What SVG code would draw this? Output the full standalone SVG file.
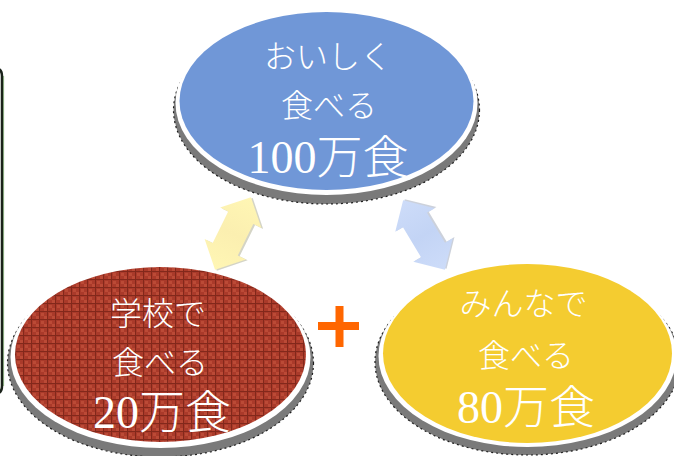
<svg xmlns="http://www.w3.org/2000/svg" width="674" height="456" viewBox="0 0 674 456">
<style>
  .t { fill:#ffffff; font-family:'Liberation Serif','Noto Sans CJK JP',serif; font-weight:300; text-anchor:middle; }
  .s1 { font-size:32px; }
  .s2 { font-size:46px; }
  .rim { fill:#7a7a7a; stroke:#1e1e1e; stroke-width:1.2; stroke-dasharray:2 3; }
  .ring { fill:#ffffff; }
</style>
<defs>
  <pattern id="redPat" width="8" height="8" patternUnits="userSpaceOnUse">
    <rect width="8" height="8" fill="#aa3a2a"/>
    <rect x="1" y="1" width="3" height="3" fill="#bb4a36"/>
    <rect x="4" y="4" width="3" height="3" fill="#bb4a36"/>
    <rect x="0" y="7" width="8" height="1" fill="#82281b"/>
    <rect x="7" y="0" width="1" height="8" fill="#82281b"/>
  </pattern>
  <linearGradient id="yArrow" x1="0" y1="0" x2="1" y2="0">
    <stop offset="0" stop-color="#fff6b4"/>
    <stop offset="0.5" stop-color="#fbefb0"/>
    <stop offset="1" stop-color="#fff6b4"/>
  </linearGradient>
  <linearGradient id="bArrow" x1="0" y1="0" x2="1" y2="0">
    <stop offset="0" stop-color="#cddcf9"/>
    <stop offset="0.5" stop-color="#c3d4f5"/>
    <stop offset="1" stop-color="#cddcf9"/>
  </linearGradient>
  <path id="dblArrow" d="M40.5,0 L17.5,-23 L17.5,-14 L-17.5,-14 L-17.5,-23 L-40.5,0 L-17.5,23 L-17.5,14 L17.5,14 L17.5,23 Z"/>
</defs>

<rect width="674" height="456" fill="#ffffff"/>

<g id="frame">
  <path d="M-6,68 Q2,68 2,76 L2,386 Q2,394 -6,394" fill="none" stroke="#1a221a" stroke-width="2.5"/>
  <path d="M3.6,76 L3.6,386" fill="none" stroke="#6f9a62" stroke-width="0.8"/>
</g>

<g id="connectors">
  <g transform="translate(233,233.5) rotate(-63.7)">
    <use href="#dblArrow" transform="translate(0,2)" fill="#b8b8a0" opacity="0.6"/>
    <use href="#dblArrow" fill="url(#yArrow)"/>
  </g>
  <g transform="translate(424,235) rotate(59)">
    <use href="#dblArrow" transform="translate(0,-2)" fill="#9aa4b8" opacity="0.5"/>
    <use href="#dblArrow" fill="url(#bArrow)"/>
  </g>
</g>

<g id="node-top">
  <ellipse class="rim" cx="326.5" cy="110" rx="153" ry="94"/>
  <ellipse class="ring" cx="326.5" cy="103" rx="151" ry="92"/>
  <ellipse cx="326.5" cy="101" rx="147" ry="89" fill="#7097d7"/>
  <text class="t s1" x="328" y="68">おいしく</text>
  <text class="t s1" x="329" y="117">食べる</text>
  <text class="t s2" x="328" y="173">100万食</text>
</g>

<g id="node-left">
  <ellipse class="rim" cx="160.5" cy="363" rx="153" ry="94"/>
  <ellipse class="ring" cx="160.5" cy="357" rx="150" ry="91"/>
  <ellipse cx="160.5" cy="354.5" rx="145.5" ry="87.5" fill="url(#redPat)"/>
  <text class="t s1" x="158" y="325">学校で</text>
  <text class="t s1" x="160" y="374">食べる</text>
  <text class="t s2" x="162" y="428">20万食</text>
</g>

<g id="node-right">
  <ellipse class="rim" cx="527.5" cy="362" rx="152.5" ry="93"/>
  <ellipse class="ring" cx="527.5" cy="356" rx="149" ry="91"/>
  <ellipse cx="527.5" cy="353.5" rx="144.5" ry="89.5" fill="#f4cc30"/>
  <text class="t s1" x="523.5" y="315">みんなで</text>
  <text class="t s1" x="526" y="367">食べる</text>
  <text class="t s2" x="526" y="423">80万食</text>
</g>

<g id="plus" fill="#ff6600">
  <rect x="318" y="322" width="41" height="8"/>
  <rect x="335.5" y="306" width="8" height="41"/>
</g>
</svg>
